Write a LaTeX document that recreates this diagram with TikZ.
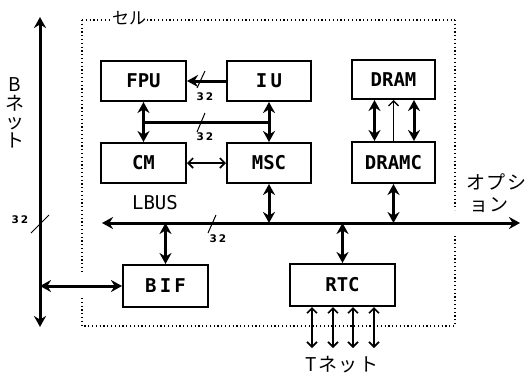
\documentclass[tikz,border=0pt]{standalone}
\usepackage{fontspec}
\usetikzlibrary{arrows.meta,calc}
\newfontfamily\jpfont{Noto Sans CJK JP}
\newfontfamily\jpwide{Noto Sans CJK JP}[LetterSpace=8]
\newfontfamily\boxfnt{DejaVu Sans Mono}
\newfontfamily\numfnt{DejaVu Sans}
\begin{document}
\begin{tikzpicture}[x=1pt,y=-1pt,
  box/.style={draw,line width=2pt,minimum width=85pt,minimum height=40pt,inner sep=0pt,font=\fontsize{19}{19}\boxfnt\bfseries},
  thk/.style={line width=3pt},
  thkboth/.style={line width=3pt,{Stealth[length=11pt,width=12pt]}-{Stealth[length=11pt,width=12pt]}},
  thkone/.style={line width=3pt,-{Stealth[length=11pt,width=12pt]}},
  thinboth/.style={line width=1.6pt,{Straight Barb[length=5pt,width=10pt]}-{Straight Barb[length=5pt,width=10pt]}},
  thinone/.style={line width=1.3pt,-{Straight Barb[length=5pt,width=10pt]}},
  cell/.style={line width=1.2pt,dash pattern=on 1.2pt off 2.6pt},
  slash/.style={line width=1pt},
  num/.style={font=\fontsize{10.5}{10.5}\numfnt\bfseries,inner sep=0pt}
]
\useasboundingbox (0,0) rectangle (528,375);

% cell boundary (dotted)
\draw[cell] (82,20) -- (455,20);
\draw[cell] (82,20) -- (82,273);
\draw[cell] (82,298) -- (82,326) -- (455,326) -- (455,235);
\draw[cell] (455,20) -- (455,210);
\node[fill=white,inner sep=1pt,font=\fontsize{17}{17}\jpfont] (cellLabel) at (129,18) {セル};

% boxes
\node[box] (FPU) at (143.5,81) {FPU};
\node[box,minimum width=84pt] (IU) at (269,81) {I\,U};
\node[box,minimum width=83pt,minimum height=39pt] (DRAM) at (393.5,79.5) {DRAM};
\node[box] (CM) at (143.5,163) {CM};
\node[box,minimum width=84pt] (MSC) at (269,163) {MSC};
\node[box,minimum width=83pt,minimum height=41pt] (DRAMC) at (393.5,162.5) {DRAMC};
\node[box,minimum height=42pt] (BIF) at (165.5,286) {B\,I\,F};
\node[box,minimum width=105pt,minimum height=42pt] (RTC) at (342.5,285) {RTC};

% B net
\coordinate (bT) at (40,17);
\coordinate (bB) at (40,327);
\draw[thkboth] (bT) -- (bB);
\node[align=center,font=\fontsize{19}{18.5}\selectfont\jpfont,inner sep=0pt] (bnet) at (15,113) {B\\ネ\\ッ\\ト};
\draw[slash] (31,233) -- (49,215);
\node[num] (n4) at (20,220) {3\hspace{2pt}2};
\draw[thkboth] (bT |- BIF.west) -- (BIF.west);

% LBUS
\coordinate (lbL) at (102,223);
\coordinate (lbR) at (520,223);
\draw[thkboth] (lbL) -- (lbR);
\node[font=\fontsize{19}{19}\boxfnt,inner sep=0pt] (lbus) at (155,203) {LBUS};
\draw[slash] (208,233) -- (216,215);
\node[num] (n3) at (218,239) {3\hspace{2pt}2};
\node[align=left,anchor=west,font=\fontsize{19}{22}\selectfont\jpwide,inner sep=0pt] (opt) at (466,193) {オプシ\\\hspace{3pt}ョン};

% bus drops
\draw[thkboth] (MSC.south) -- (MSC.south |- lbL);
\draw[thkboth] (DRAMC.south) -- (DRAMC.south |- lbL);
\draw[thkboth] (BIF.north |- lbL) -- (BIF.north);
\draw[thkboth] (RTC.north |- lbL) -- (RTC.north);

% processor links
\draw[thkone] (IU.west) -- (FPU.east);
\draw[slash] (197,88) -- (205,71);
\node[num] (n1) at (205,97) {3\hspace{2pt}2};
\draw[thkboth] (FPU.south) -- (CM.north);
\draw[thkboth] (IU.south) -- (MSC.north);
\coordinate (j1) at ($(FPU.south)!0.5!(CM.north)$);
\draw[thk] (j1) -- (j1 -| IU.south);
\draw[slash] (197,132) -- (205,113);
\node[num] (n2) at (205,137) {3\hspace{2pt}2};
\draw[thinboth] (CM.east) -- (MSC.west);

% DRAM links
\draw[thkboth] ($(DRAM.south)+(-19,0)$) -- ($(DRAMC.north)+(-19,0)$);
\draw[thinone] (DRAMC.north) -- (DRAM.south);
\draw[thkboth] ($(DRAM.south)+(20.5,0)$) -- ($(DRAMC.north)+(20.5,0)$);

% T net
\foreach \dx [count=\i] in {-30.5,-9.5,10.5,31.5}{
  \coordinate (t\i) at ($(RTC.south)+(\dx,41)$);
  \draw[thinboth] ($(RTC.south)+(\dx,0)$) -- (t\i);
}
\node[font=\fontsize{19}{19}\jpwide,inner sep=0pt] (tnet) at (342,365) {Tネット};
\end{tikzpicture}
\end{document}
